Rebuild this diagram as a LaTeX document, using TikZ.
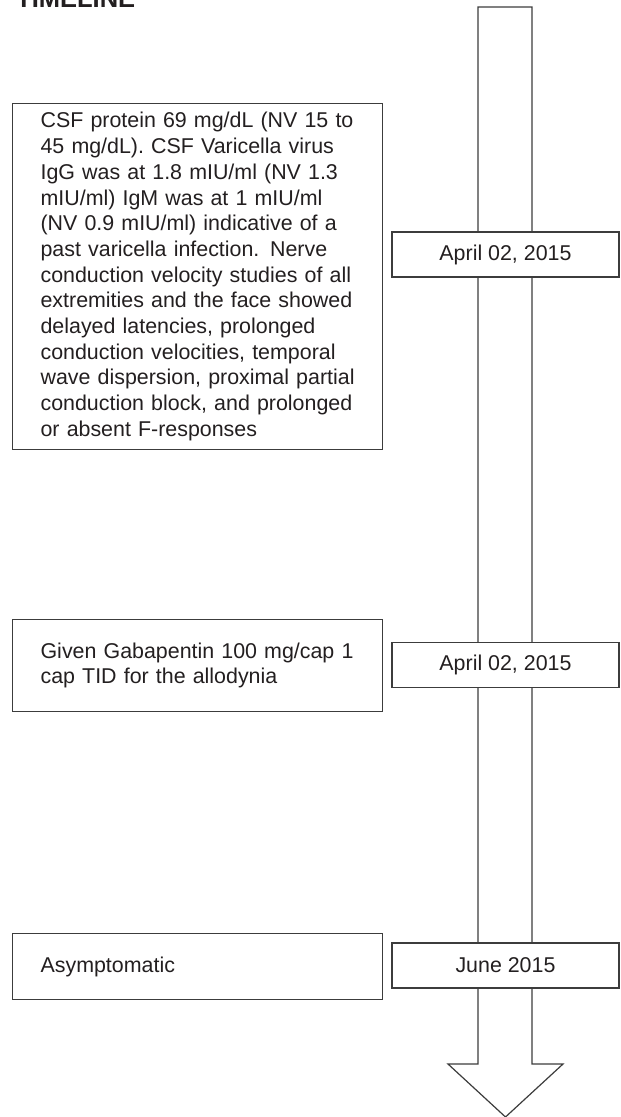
\documentclass[tikz,border=0pt]{standalone}
\usepackage{fontspec}
\setmainfont{Liberation Sans}
\usepackage{tikz}
\usetikzlibrary{positioning}
\definecolor{linec}{RGB}{60,60,60}
\definecolor{textc}{RGB}{35,31,32}

\begin{document}
\begin{tikzpicture}[x=1pt,y=-1pt, font=\fontsize{21.4}{25.7}\selectfont, text=textc,
  shaft/.style={draw=linec, line width=1.2pt, fill=white},
  evbox/.style={draw=linec, line width=1.2pt, fill=white, text width=314pt, inner xsep=28pt,
    align=left, anchor=north west},
  datebox/.style={draw=linec, line width=1.2pt, fill=white, minimum width=227pt,
    minimum height=45pt, inner sep=0pt},
]
\useasboundingbox (0,0) rectangle (621,1117);
% ---------- title (cut at the top) ----------
\node[font=\fontsize{25.5}{30}\selectfont\bfseries, anchor=base west, inner sep=0pt] (title) at (16,7) {TIMELINE};
% ---------- time arrow ----------
\coordinate (top) at (505,7);
\coordinate (tip) at (505.5,1117);
\draw[shaft] (478,7) -- (532,7) -- (532,1064) -- (563,1064) -- (tip) -- (448,1064) -- (478,1064) -- cycle;
% ---------- events ----------
\node[evbox, minimum height=346pt] (ev1) at (12,103) {CSF protein 69 mg/dL (NV 15 to\\
  45 mg/dL). CSF Varicella virus\\
  IgG was at 1.8 mIU/ml (NV 1.3\\
  mIU/ml) IgM was at 1 mIU/ml\\
  (NV 0.9 mIU/ml) indicative of a\\
  past varicella infection. Nerve\\
  conduction velocity studies of all\\
  extremities and the face showed\\
  delayed latencies, prolonged\\
  conduction velocities, temporal\\
  wave dispersion, proximal partial\\
  conduction block, and prolonged\\
  or absent F-responses};
\node[evbox, minimum height=92pt] (ev2) at (12,619) {Given Gabapentin 100 mg/cap 1\\cap TID for the allodynia};
\node[evbox, minimum height=66pt] (ev3) at (12,933) {Asymptomatic};
% ---------- dates on the arrow ----------
\node[datebox] (date1) at (505.5,254.5) {April 02, 2015};
\node[datebox] (date2) at (505.5,665) {April 02, 2015};
\node[datebox] (date3) at (505.5,965.5) {June 2015};
\end{tikzpicture}
\end{document}
